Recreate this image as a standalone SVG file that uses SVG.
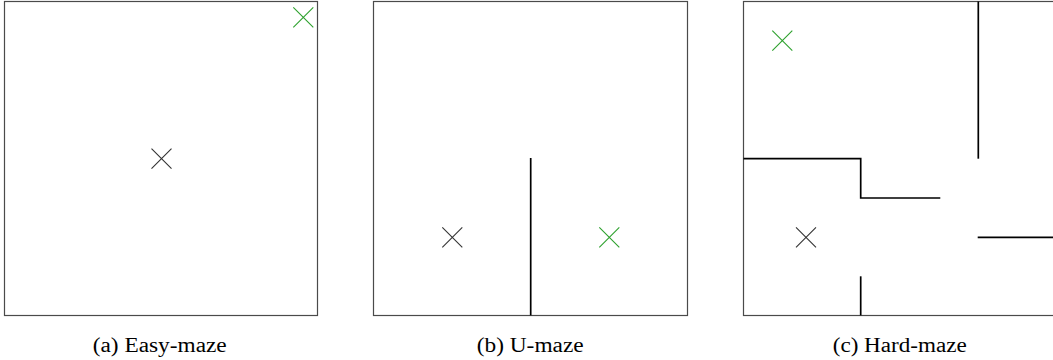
<svg xmlns="http://www.w3.org/2000/svg" width="1053" height="360" viewBox="0 0 1053 360">
<style>
.box{fill:none;stroke:#4a4a4a;stroke-width:1.2}
.wall{fill:none;stroke:#000;stroke-width:1.7}
.start{stroke:#333;stroke-width:1.1}
.goal{stroke:#2ca02c;stroke-width:1.1}
.cap{font-family:'Liberation Serif','Times New Roman',serif;font-size:20px;fill:#000}
</style>
<rect width="1053" height="360" fill="#fff"/>
<g id="easy-maze">
<rect class="box" x="4.5" y="1.5" width="313" height="314"/>
<path class="start" d="M151.5 148.7l20 20M171.5 148.7l-20 20"/>
<path class="goal" d="M293.3 7.3l20 20M313.3 7.3l-20 20"/>
<text class="cap" x="92.7" y="352" textLength="134" lengthAdjust="spacingAndGlyphs">(a) Easy-maze</text>
</g>
<g id="u-maze">
<rect class="box" x="373.5" y="1.5" width="314" height="314"/>
<path class="wall" d="M530.7 158V315.3"/>
<path class="start" d="M442.3 227.3l20 20M462.3 227.3l-20 20"/>
<path class="goal" d="M599.3 227.3l20 20M619.3 227.3l-20 20"/>
<text class="cap" x="476.7" y="352" textLength="107" lengthAdjust="spacingAndGlyphs">(b) U-maze</text>
</g>
<g id="hard-maze">
<rect class="box" x="743.5" y="1.5" width="314" height="314"/>
<path class="wall" d="M978.3 1.5V158.7"/>
<path class="wall" d="M743.5 158.7H860.7V198H940.3"/>
<path class="wall" d="M977.7 237.3H1053"/>
<path class="wall" d="M860.7 276.3V315.3"/>
<path class="goal" d="M772.3 30.7l20 20M792.3 30.7l-20 20"/>
<path class="start" d="M796 227.3l20 20M816 227.3l-20 20"/>
<text class="cap" x="832.7" y="352" textLength="134" lengthAdjust="spacingAndGlyphs">(c) Hard-maze</text>
</g>
</svg>
